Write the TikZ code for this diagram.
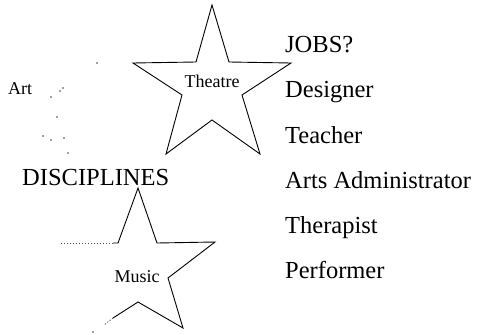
\documentclass[tikz,border=0pt]{standalone}
\usepackage{fontspec}
\setmainfont{Liberation Serif}
\begin{document}
\begin{tikzpicture}[x=1pt,y=-1pt,
  big/.style={inner sep=0pt,anchor=base west,font=\fontsize{24.5}{26}\selectfont},
  small/.style={inner sep=0pt,anchor=base,font=\fontsize{18}{20}\selectfont},
  outline/.style={draw=black,line width=0.9pt,line join=miter},
  faded/.style={draw=black!70,line width=0.8pt,dash pattern=on 1.2pt off 1.8pt},
  speck/.style={fill=black!75,draw=none}]
\useasboundingbox (0,0) rectangle (478,334);

% Theatre star
\draw[outline] (212,5) -- (229,62) -- (291,63) -- (242,95) -- (260,154)
  -- (212,120) -- (166,154) -- (182,95) -- (133,63) -- (196,62) -- cycle;
\node[small] (theatre) at (212,88) {Theatre};

% Music star, partly faded on its left side
\coordinate (mtl) at (61,243);
\coordinate (mll) at (104,325);
\draw[faded] (mtl) -- (113,243);
\draw[outline] (113,243) -- (118,243) -- (138,188) -- (157,243) -- (215,242)
  -- (168,278) -- (183,328) -- (138,302) -- (113,318);
\draw[faded] (113,318) -- (mll);
\fill[speck] (93,332) circle (0.8);
\node[small] (music) at (137,282) {Music};

% Art: only specks left of its star
\node[small,anchor=base west] (art) at (8,94) {Art};
\foreach \p in {(97,63),(63,88),(60,91),(51,97),(57,117),(43,136),(51,140),(64,138),(68,153)}
  \fill[speck] \p circle (0.8);

\node[big] (disc) at (22,185) {DISCIPLINES};

% Job list
\node[big] (jobs) at (285,53) {JOBS?};
\node[big] (designer) at (285,98) {Designer};
\node[big] (teacher) at (285,143) {Teacher};
\node[big] (admin) at (285,188) {Arts Administrator};
\node[big] (therapist) at (285,233) {Therapist};
\node[big] (performer) at (285,278) {Performer};
\end{tikzpicture}
\end{document}
